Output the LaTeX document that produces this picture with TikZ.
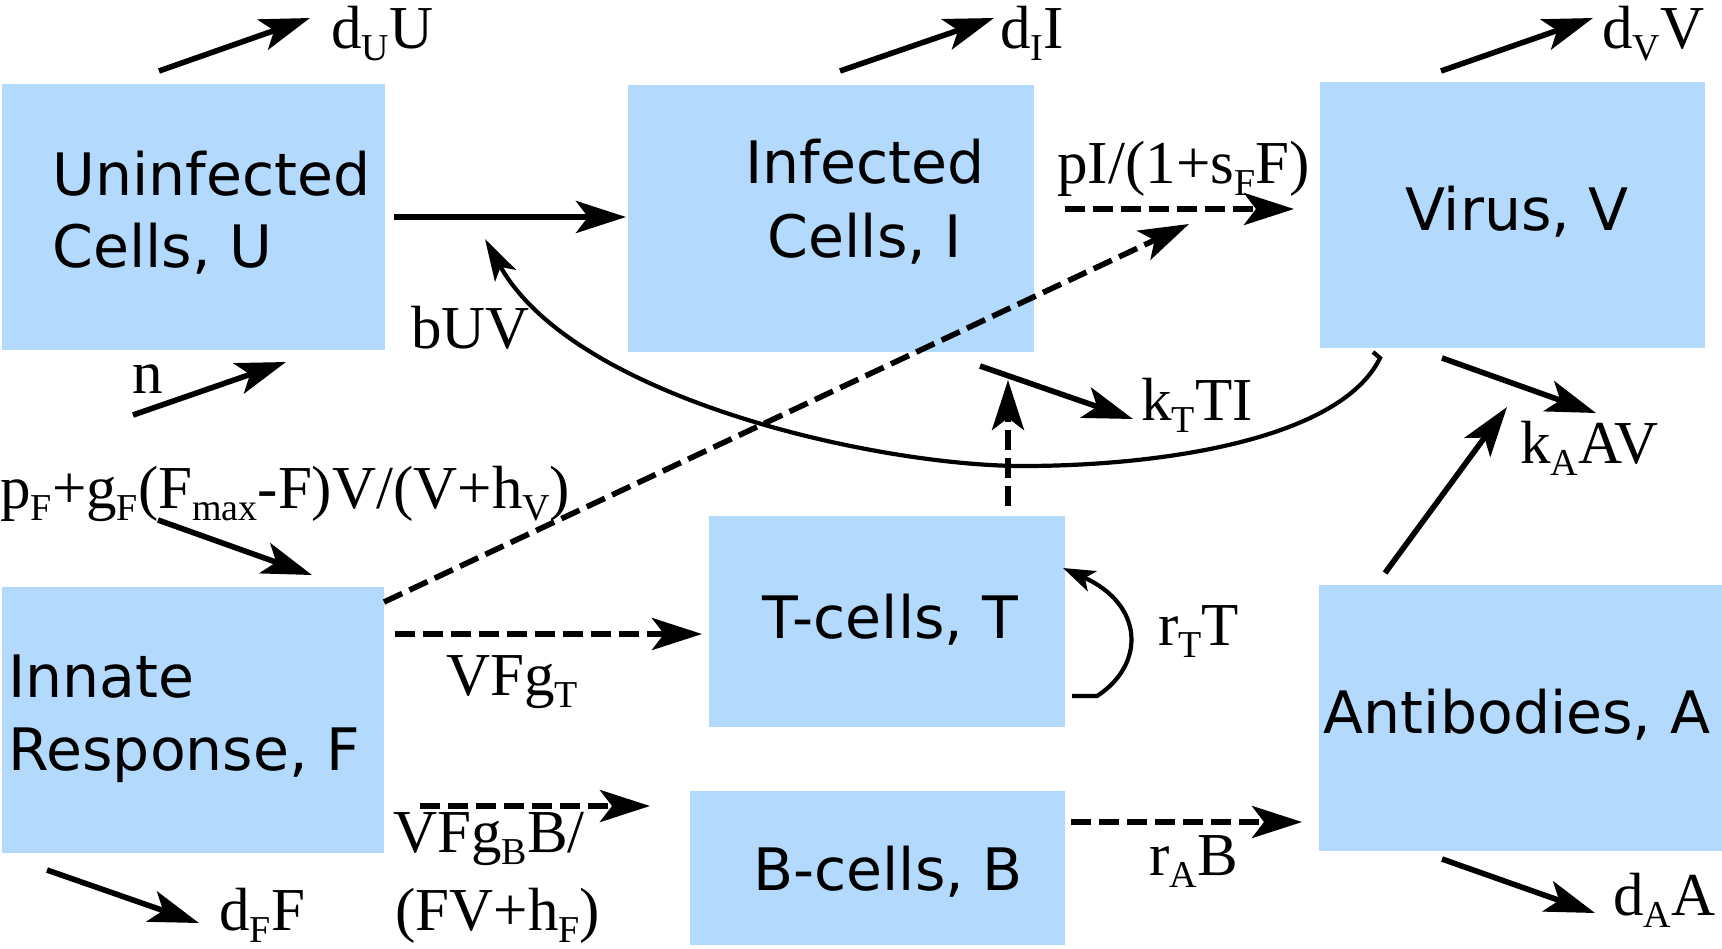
\documentclass[tikz,border=0pt]{standalone}
\usepackage{fontspec}
\setmainfont{Liberation Serif}
\newfontfamily\boxfont{DejaVu Sans}
\usetikzlibrary{arrows.meta,fit}
\definecolor{boxblue}{RGB}{179,218,253}
% lowered, smaller index letters for the rate labels
\newcommand\sbs[1]{\raisebox{-0.21em}{\fontsize{19}{19}\selectfont #1}}

\begin{document}
\begin{tikzpicture}[x=0.5pt,y=-0.5pt,
  box/.style={fill=boxblue, draw=none, inner sep=0pt, outer sep=0pt},
  boxlabel/.style={font=\boxfont\fontsize{29.25}{35}\selectfont, inner sep=0pt, anchor=base},
  rate/.style={font=\fontsize{30.5}{36}\selectfont, inner sep=0pt, anchor=base west},
  flow/.style={line width=2.8pt, -{Stealth[length=25pt,width=16pt,inset=6pt]}},
  signal/.style={flow, dash pattern=on 10pt off 4pt},
  thinflow/.style={line width=2.1pt},
]
\useasboundingbox (0,0) rectangle (1722,948);

% compartments
\node[box, fit={(2,84) (385,350)}]    (U) {};
\node[box, fit={(628,85) (1034,352)}] (I) {};
\node[box, fit={(1320,82) (1705,348)}] (V) {};
\node[box, fit={(2,587) (384,853)}]   (F) {};
\node[box, fit={(709,516) (1065,727)}] (T) {};
\node[box, fit={(690,791) (1065,945)}] (B) {};
\node[box, fit={(1319,585) (1722,851)}] (A) {};

% compartment names
\node[boxlabel, anchor=base west] (Ut1) at (52,195) {Uninfected};
\node[boxlabel, anchor=base west] (Ut2) at (52,267) {Cells, U};
\node[boxlabel] (It1) at (865,183) {Infected};
\node[boxlabel] (It2) at (865,257) {Cells, I};
\node[boxlabel] (Vt) at (1517,230) {Virus, V};
\node[boxlabel, anchor=base west] (Ft1) at (8,697) {Innate};
\node[boxlabel, anchor=base west] (Ft2) at (8,770) {Response, F};
\node[boxlabel] (Tt) at (890,638) {T-cells, T};
\node[boxlabel] (Bt) at (888,890) {B-cells, B};
\node[boxlabel] (At) at (1517,733) {Antibodies, A};

% free ends of source and loss arrows
\coordinate (dUs) at (159,71);   \coordinate (dUe) at (310,18);
\coordinate (dIs) at (840,71);   \coordinate (dIe) at (994,18);
\coordinate (dVs) at (1441,71);  \coordinate (dVe) at (1593,18);
\coordinate (ns)  at (133,415);  \coordinate (ne)  at (286,362);
\coordinate (kTs) at (980,366);  \coordinate (kTe) at (1133,419);
\coordinate (kAs) at (1442,358); \coordinate (kAe) at (1596,413);
\coordinate (Aks) at (1385,573); \coordinate (Ake) at (1507,407);
\coordinate (pFs) at (158,520);  \coordinate (pFe) at (312,575);
\coordinate (dFs) at (47,870);   \coordinate (dFe) at (199,923);
\coordinate (dAs) at (1442,859); \coordinate (dAe) at (1595,913);
\coordinate (fvE) at (1189,224);
\coordinate (bH)  at (1373,352); \coordinate (bS) at (1380,358);
\coordinate (bM)  at (1023,466); \coordinate (bE) at (485,239);
\coordinate (rS)  at (1072,696); \coordinate (rK) at (1097,696);
\coordinate (rE)  at (1063,568);

% infection and production
\draw[flow, shorten <=4.5pt, shorten >=1pt] (U.east) -- (U.east -| I.west);
\draw[signal, shorten <=15.5pt, shorten >=13pt]
  ([yshift=4.75pt]I.east) -- ([yshift=4.75pt]I.east -| V.west);
\draw[signal] ([yshift=-7.5pt]F.north east) -- (fvE);

% viral infection term back to the uninfected cells
\draw[thinflow, -{Stealth[length=21pt,width=12pt,inset=5pt]}]
  (bH) -- (bS) .. controls (1340,440) and (1160,466) .. (bM)
  .. controls (880,466) and (575,400) .. (bE);

% adaptive response
\draw[signal, shorten <=5.5pt, shorten >=3.5pt]
  ([yshift=-6.25pt]T.west -| F.east) -- ([yshift=-6.25pt]T.west);
\draw[signal, shorten <=18pt, shorten >=20pt]
  ([yshift=31pt]B.west -| F.east) -- ([yshift=31pt]B.west);
\draw[signal, shorten <=3pt, shorten >=8.5pt]
  ([yshift=23pt]B.east) -- ([yshift=23pt]B.east -| A.west);
\draw[signal, shorten <=5pt, shorten >=14pt]
  ([xshift=60.5pt]T.north) -- ([xshift=60.5pt]T.north |- I.south);
\draw[thinflow, -{Stealth[length=16pt,width=11pt,inset=4pt]}]
  (rS) -- (rK) .. controls (1145,665) and (1145,605) .. (rE);

% sources and losses
\draw[flow] (dUs) -- (dUe);
\draw[flow] (dIs) -- (dIe);
\draw[flow] (dVs) -- (dVe);
\draw[flow] (ns) -- (ne);
\draw[flow] (kTs) -- (kTe);
\draw[flow] (kAs) -- (kAe);
\draw[flow] (Aks) -- (Ake);
\draw[flow] (pFs) -- (pFe);
\draw[flow] (dFs) -- (dFe);
\draw[flow] (dAs) -- (dAe);

% rate labels
\node[rate] (ldU) at (331,48) {d\sbs{U}U};
\node[rate] (ldI) at (1000,48) {d\sbs{I}I};
\node[rate] (ldV) at (1602,48) {d\sbs{V}V};
\node[rate] (ln) at (132,393) {n};
\node[rate] (lb) at (411,348) {bUV};
\node[rate] (lp) at (1057,183) {pI/(1+s\sbs{F}F)};
\node[rate] (lkT) at (1141,420) {k\sbs{T}TI};
\node[rate] (lkA) at (1520,463) {k\sbs{A}AV};
\node[rate] (lpF) at (0,508) {p\sbs{F}+g\sbs{F}(F\sbs{max}-F)V/(V+h\sbs{V})};
\node[rate] (lgT) at (446,695) {VFg\sbs{T}};
\node[rate] (lgB1) at (393,852) {VFg\sbs{B}B/};
\node[rate] (lgB2) at (395,930) {(FV+h\sbs{F})};
\node[rate] (ldF) at (219,930) {d\sbs{F}F};
\node[rate] (lrT) at (1158,645) {r\sbs{T}T};
\node[rate] (lrA) at (1149,875) {r\sbs{A}B};
\node[rate] (ldA) at (1613,915) {d\sbs{A}A};
\end{tikzpicture}
\end{document}
